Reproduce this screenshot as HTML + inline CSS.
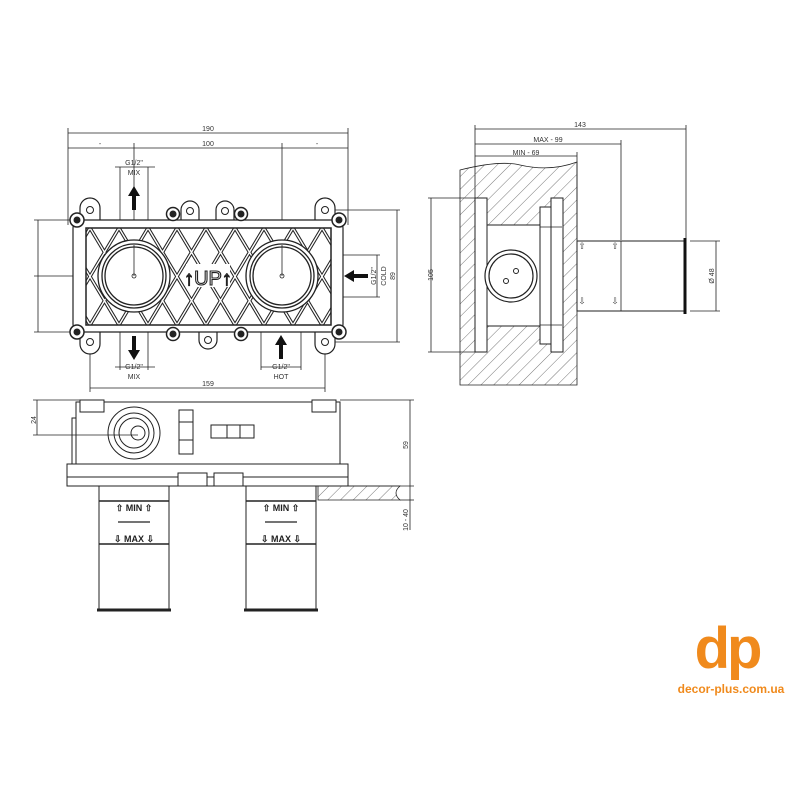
<!DOCTYPE html>
<html><head><meta charset="utf-8"><style>
html,body{margin:0;padding:0;background:#fff;}
svg{display:block;font-family:"Liberation Sans",sans-serif;}
</style></head><body>
<svg width="800" height="800" viewBox="0 0 800 800" xmlns="http://www.w3.org/2000/svg">
<defs>
<pattern id="hatch" patternUnits="userSpaceOnUse" width="9" height="9" patternTransform="rotate(45)">
<line x1="0" y1="0" x2="0" y2="9" stroke="#555" stroke-width="0.8"/>
</pattern>
<pattern id="lat" patternUnits="userSpaceOnUse" x="90" y="228" width="58" height="97">
<g stroke="#222" stroke-width="3.5">
<line x1="0" y1="0" x2="58" y2="97"/><line x1="-29" y1="0" x2="29" y2="97"/><line x1="29" y1="0" x2="87" y2="97"/><line x1="-58" y1="0" x2="0" y2="97"/>
<line x1="58" y1="0" x2="0" y2="97"/><line x1="29" y1="0" x2="-29" y2="97"/><line x1="87" y1="0" x2="29" y2="97"/><line x1="116" y1="0" x2="58" y2="97"/>
</g>
<g stroke="#fff" stroke-width="1.4">
<line x1="0" y1="0" x2="58" y2="97"/><line x1="-29" y1="0" x2="29" y2="97"/><line x1="29" y1="0" x2="87" y2="97"/><line x1="-58" y1="0" x2="0" y2="97"/>
<line x1="58" y1="0" x2="0" y2="97"/><line x1="29" y1="0" x2="-29" y2="97"/><line x1="87" y1="0" x2="29" y2="97"/><line x1="116" y1="0" x2="58" y2="97"/>
</g>
</pattern>
</defs>
<rect width="800" height="800" fill="#fff"/>
<g stroke="#222" fill="none" stroke-width="0.8">
<line x1="68" y1="133" x2="348" y2="133"/>
<line x1="68" y1="148" x2="348" y2="148"/>
<line x1="68" y1="128" x2="68" y2="225"/>
<line x1="348" y1="128" x2="348" y2="225"/>
<line x1="134" y1="143" x2="134" y2="276"/>
<line x1="282" y1="143" x2="282" y2="276"/>
<line x1="115" y1="167" x2="155" y2="167"/>
<line x1="120" y1="167" x2="120" y2="230"/><line x1="148" y1="167" x2="148" y2="230"/>
<line x1="34" y1="220" x2="78" y2="220"/><line x1="34" y1="332" x2="78" y2="332"/>
<line x1="34" y1="276" x2="134" y2="276"/>
<line x1="38" y1="220" x2="38" y2="332"/>
<line x1="330" y1="210" x2="400" y2="210"/><line x1="330" y1="342" x2="400" y2="342"/>
<line x1="397" y1="210" x2="397" y2="342"/>
<line x1="320" y1="255" x2="380" y2="255"/><line x1="320" y1="297" x2="380" y2="297"/>
<line x1="377" y1="255" x2="377" y2="297"/>
<line x1="120" y1="320" x2="120" y2="370"/><line x1="148" y1="320" x2="148" y2="370"/>
<line x1="115" y1="367" x2="155" y2="367"/>
<line x1="261" y1="325" x2="261" y2="370"/><line x1="301" y1="325" x2="301" y2="370"/>
<line x1="261" y1="367" x2="301" y2="367"/>
<line x1="90" y1="342" x2="90" y2="392"/><line x1="325" y1="342" x2="325" y2="392"/>
<line x1="90" y1="388" x2="325" y2="388"/>
</g>
<g font-size="7" fill="#333" text-anchor="middle">
<text x="208" y="131">190</text><text x="208" y="146">100</text>
<text x="100" y="146">-</text><text x="317" y="146">-</text>
<text x="134" y="165">G1/2"</text><text x="134" y="175">MIX</text>
<text x="134" y="369">G1/2"</text><text x="134" y="379">MIX</text>
<text x="281" y="369">G1/2"</text><text x="281" y="379">HOT</text>
<text x="208" y="386">159</text>
<text transform="translate(376,276) rotate(-90)">G1/2"</text>
<text transform="translate(386,276) rotate(-90)">COLD</text>
<text transform="translate(395,276) rotate(-90)">89</text>
<text transform="translate(433,275) rotate(-90)">105</text>
<text transform="translate(36,420) rotate(-90)">24</text>
<text transform="translate(408,445) rotate(-90)">59</text>
<text transform="translate(408,520) rotate(-90)">10 - 40</text>
<text x="580" y="127">143</text><text x="548" y="142">MAX - 99</text><text x="526" y="155">MIN - 69</text>
<text transform="translate(714,276) rotate(-90)">Ø 48</text>
</g>
<g stroke="#222" fill="#fff" stroke-width="1.2">
<path d="M80,222 V208 a10,10 0 0 1 20,0 V222"/>
<path d="M315,222 V208 a10,10 0 0 1 20,0 V222"/>
<path d="M181,222 V210 a9,9 0 0 1 18,0 V222"/>
<path d="M216,222 V210 a9,9 0 0 1 18,0 V222"/>
<path d="M80,330 V344 a10,10 0 0 0 20,0 V330"/>
<path d="M315,330 V344 a10,10 0 0 0 20,0 V330"/>
<path d="M199,330 V340 a9,9 0 0 0 18,0 V330"/>
<rect x="73" y="220" width="270" height="112" rx="8"/>
</g>
<g stroke="#222" fill="none" stroke-width="1"><circle cx="90" cy="210" r="3.5"/><circle cx="325" cy="210" r="3.5"/><circle cx="190" cy="211" r="3.5"/><circle cx="225" cy="211" r="3.5"/><circle cx="90" cy="342" r="3.5"/><circle cx="325" cy="342" r="3.5"/><circle cx="208" cy="340" r="3.5"/></g>
<rect x="86" y="228" width="245" height="97" fill="url(#lat)" stroke="#222" stroke-width="1.5"/>
<g stroke="#222" fill="#fff" stroke-width="1.3">
<circle cx="134" cy="276" r="36"/><circle cx="134" cy="276" r="32"/><circle cx="134" cy="276" r="29"/>
<circle cx="282" cy="276" r="36"/><circle cx="282" cy="276" r="32"/><circle cx="282" cy="276" r="29"/>
</g>
<g stroke="#222" stroke-width="0.8" fill="none"><circle cx="134" cy="276" r="2"/><circle cx="282" cy="276" r="2"/>
<line x1="134" y1="245" x2="134" y2="276"/><line x1="282" y1="245" x2="282" y2="276"/></g>
<rect x="186" y="264" width="44" height="23" fill="#fff"/>
<text x="208" y="285" font-size="20" text-anchor="middle" fill="#fff" stroke="#222" stroke-width="1.1">↑UP↑</text>
<g stroke="#222" stroke-width="1.5" fill="#fff">
<circle cx="77" cy="220" r="7"/><circle cx="339" cy="220" r="7"/><circle cx="77" cy="332" r="7"/><circle cx="339" cy="332" r="7"/>
<circle cx="173" cy="214" r="6.5"/><circle cx="241" cy="214" r="6.5"/><circle cx="173" cy="334" r="6.5"/><circle cx="241" cy="334" r="6.5"/>
</g>
<g fill="#222"><circle cx="77" cy="220" r="3.5"/><circle cx="339" cy="220" r="3.5"/><circle cx="77" cy="332" r="3.5"/><circle cx="339" cy="332" r="3.5"/><circle cx="173" cy="214" r="3.5"/><circle cx="241" cy="214" r="3.5"/><circle cx="173" cy="334" r="3.5"/><circle cx="241" cy="334" r="3.5"/></g>
<g fill="#111">
<path d="M134,186 L140,196 L136,196 L136,210 L132,210 L132,196 L128,196Z"/>
<path d="M134,360 L140,350 L136,350 L136,336 L132,336 L132,350 L128,350Z"/>
<path d="M281,335 L287,345 L283,345 L283,359 L279,359 L279,345 L275,345Z"/>
<path d="M344,276 L354,270 L354,274 L368,274 L368,278 L354,278 L354,282Z"/>
</g>
<g stroke="#222" stroke-width="0.8" fill="none">
<line x1="475" y1="125" x2="475" y2="200"/>
<line x1="475" y1="129" x2="686" y2="129"/><line x1="686" y1="125" x2="686" y2="240"/>
<line x1="475" y1="144" x2="621" y2="144"/><line x1="621" y1="140" x2="621" y2="240"/>
<line x1="475" y1="156" x2="577" y2="156"/><line x1="577" y1="152" x2="577" y2="240"/>
<line x1="428" y1="198" x2="478" y2="198"/><line x1="428" y1="352" x2="478" y2="352"/>
<line x1="431" y1="198" x2="431" y2="352"/>
<line x1="690" y1="241" x2="720" y2="241"/><line x1="690" y1="311" x2="720" y2="311"/>
<line x1="716" y1="241" x2="716" y2="311"/>
</g>
<path d="M460,170 Q500,160 520,165 Q550,172 577,162 L577,385 L460,385Z" fill="url(#hatch)" stroke="#222" stroke-width="0.8"/>
<g stroke="#222" stroke-width="1" fill="#fff">
<rect x="475" y="198" width="12" height="154"/>
<rect x="487" y="225" width="55" height="101"/>
<rect x="540" y="207" width="22" height="137"/>
<rect x="551" y="198" width="12" height="154"/>
<rect x="577" y="241" width="109" height="70"/>
</g>
<line x1="540" y1="227" x2="562" y2="227" stroke="#222" stroke-width="0.8"/>
<line x1="540" y1="325" x2="562" y2="325" stroke="#222" stroke-width="0.8"/>
<line x1="621" y1="241" x2="621" y2="311" stroke="#222" stroke-width="0.8"/>
<line x1="685" y1="238" x2="685" y2="314" stroke="#111" stroke-width="3"/>
<g stroke="#222" stroke-width="1.2" fill="#fff"><circle cx="511" cy="276" r="26"/><circle cx="511" cy="276" r="22"/></g>
<g stroke="#222" fill="none"><circle cx="516" cy="271" r="2.5"/><circle cx="506" cy="281" r="2.5"/></g>
<g font-size="9" fill="#444" text-anchor="middle"><text x="582" y="249">⇧</text><text x="615" y="249">⇧</text><text x="582" y="304">⇩</text><text x="615" y="304">⇩</text></g>
<g stroke="#222" stroke-width="1" fill="#fff">
<rect x="76" y="402" width="264" height="62"/>
<rect x="80" y="400" width="24" height="12"/><rect x="312" y="400" width="24" height="12"/>
<rect x="72" y="418" width="4" height="46"/>
<rect x="67" y="464" width="281" height="22"/>
<line x1="67" y1="477" x2="348" y2="477"/>
<rect x="178" y="473" width="29" height="13"/><rect x="214" y="473" width="29" height="13"/>
<rect x="179" y="410" width="14" height="12"/><rect x="179" y="422" width="14" height="18"/><rect x="179" y="440" width="14" height="14"/>
<rect x="211" y="425" width="16" height="13"/><rect x="227" y="425" width="13" height="13"/><rect x="240" y="425" width="14" height="13"/>
<circle cx="134" cy="433" r="26"/><circle cx="134" cy="433" r="20"/><circle cx="134" cy="433" r="15"/><circle cx="138" cy="433" r="7"/>
<rect x="99" y="486" width="70" height="124"/><rect x="246" y="486" width="70" height="124"/>
</g>
<g stroke="#222" stroke-width="0.8">
<line x1="33" y1="400" x2="80" y2="400"/><line x1="33" y1="435" x2="138" y2="435"/><line x1="37" y1="400" x2="37" y2="435"/>
<line x1="340" y1="400" x2="414" y2="400"/><line x1="348" y1="486" x2="414" y2="486"/><line x1="400" y1="500" x2="414" y2="500"/>
<line x1="410" y1="400" x2="410" y2="530"/>
<line x1="99" y1="501" x2="169" y2="501" stroke-width="1.5"/><line x1="246" y1="501" x2="316" y2="501" stroke-width="1.5"/>
<line x1="99" y1="544" x2="169" y2="544" stroke-width="1.5"/><line x1="246" y1="544" x2="316" y2="544" stroke-width="1.5"/>
<line x1="118" y1="522" x2="150" y2="522" stroke-width="1.2"/><line x1="265" y1="522" x2="297" y2="522" stroke-width="1.2"/>
<line x1="97" y1="610" x2="171" y2="610" stroke-width="3"/><line x1="244" y1="610" x2="318" y2="610" stroke-width="3"/>
</g>
<path d="M318,486 L400,486 Q392,493 400,500 L318,500Z" fill="url(#hatch)" stroke="#222" stroke-width="0.8"/>
<g font-size="9" font-weight="bold" fill="#222" text-anchor="middle">
<text x="134" y="511">⇧ MIN ⇧</text><text x="281" y="511">⇧ MIN ⇧</text>
<text x="134" y="542">⇩ MAX ⇩</text><text x="281" y="542">⇩ MAX ⇩</text>
</g>
<g fill="#f08a1c">
<text x="727" y="668" font-size="58" font-weight="bold" text-anchor="middle" letter-spacing="-3">dp</text>
<text x="731" y="693" font-size="12" font-weight="bold" text-anchor="middle">decor-plus.com.ua</text>
</g>
</svg>
</body></html>
